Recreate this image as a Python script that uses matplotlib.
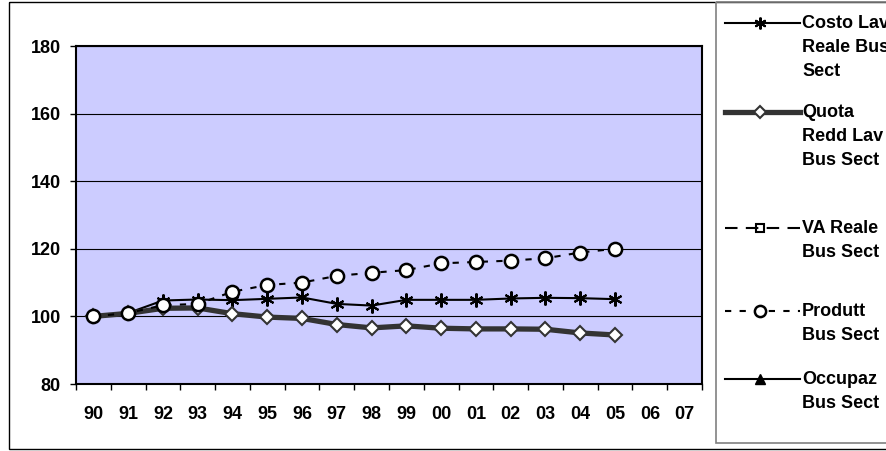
import numpy as np
import matplotlib.pyplot as plt
from matplotlib.patches import Rectangle

plt.rcParams['font.family'] = ['Liberation Sans', 'DejaVu Sans']
plt.rcParams['font.weight'] = 'bold'

# categorie (anni) e serie
anni = ['90', '91', '92', '93', '94', '95', '96', '97', '98', '99',
        '00', '01', '02', '03', '04', '05', '06', '07']
nan = np.nan
costo_lav = [100, 101, 104.7, 105.0, 104.8, 105.2, 105.6, 103.7, 103.2, 104.9,
             104.9, 104.9, 105.3, 105.5, 105.4, 105.1, nan, nan]
quota_redd = [100, 100.9, 102.4, 102.5, 100.8, 99.8, 99.4, 97.6, 96.6, 97.2,
              96.5, 96.3, 96.3, 96.2, 95.1, 94.5, nan, nan]
va_reale = [nan] * 18
produtt = [100, 101, 103.3, 103.7, 107.3, 109.3, 110.0, 112.0, 112.9, 113.7,
           115.7, 116.1, 116.5, 117.2, 118.9, 120.0, nan, nan]
occupaz = [nan] * 18

etichette = [['Costo Lav', 'Reale Bus', 'Sect'], ['Quota', 'Redd Lav', 'Bus Sect'],
             ['VA Reale', 'Bus Sect'], ['Produtt', 'Bus Sect'], ['Occupaz', 'Bus Sect']]

W, H = 887, 451
fig = plt.figure(figsize=(W / 100, H / 100), dpi=100)
ax = fig.add_axes([76 / W, (H - 384) / H, 626 / W, 338 / H])
ax.set_facecolor('#CCCCFF')

x = np.arange(len(anni))
stili = [
    dict(color='black', lw=1.5, marker=(6, 2, 0), ms=10, mew=1.5),
    dict(color='#333333', lw=3.8, marker='D', ms=7, mfc='white', mec='#333333', mew=1.5),
    dict(color='black', lw=1.5, ls=(0, (6, 4)), marker='s', ms=7, mfc='none', mew=1.5),
    dict(color='black', lw=1.5, ls=(0, (3, 4)), marker='o', ms=9.5, mfc='white', mew=1.8),
    dict(color='black', lw=1.5, marker='^', ms=8),
]
serie = [costo_lav, quota_redd, va_reale, produtt, occupaz]
for i, (s, st) in enumerate(zip(serie, stili)):
    ax.plot(x, s, zorder=3 + i, clip_on=False, **st)

ax.set_xlim(-0.5, len(anni) - 0.5)
ax.set_ylim(80, 180)
ax.set_yticks(range(80, 181, 20))
ax.set_xticks(np.arange(-0.5, len(anni), 1))
ax.set_xticklabels([])
ax.set_xticks(x, minor=True)
ax.set_xticklabels(anni, minor=True, fontsize=13, fontweight='bold')
ax.tick_params(axis='x', which='minor', length=0, pad=16)
ax.tick_params(axis='x', which='major', length=4.3, width=1, direction='out')
ax.tick_params(axis='y', length=4.3, width=1, direction='out', labelsize=13, pad=6.5)
for lab in ax.get_yticklabels():
    lab.set_fontweight('bold')
ax.yaxis.grid(True, color='black', lw=0.8)
ax.set_axisbelow(True)
for sp in ax.spines.values():
    sp.set_color('black')
    sp.set_linewidth(1.5)

# cornice esterna e legenda disegnata a mano
ov = fig.add_axes([0, 0, 1, 1], zorder=10)
ov.set_xlim(0, W)
ov.set_ylim(H, 0)
ov.axis('off')
ov.patch.set_visible(False)
ov.add_patch(Rectangle((9, 2), W + 10, 447, fill=False, ec='black', lw=1))
ov.add_patch(Rectangle((716, 2), W, 441, fill=False, ec='#808080', lw=1.2))

righe_y = [23, 112, 228, 311, 379]
for yy, st, righe in zip(righe_y, stili, etichette):
    linea = {k: v for k, v in st.items() if k in ('color', 'lw', 'ls')}
    ov.plot([725, 800], [yy, yy], **linea)
    mk = {k: v for k, v in st.items() if k in ('marker', 'mfc', 'mec', 'mew', 'color')}
    ov.plot([760], [yy], ls='none', ms=st['ms'] * 0.85, **mk)
    for k, r in enumerate(righe):
        ov.text(802, yy + 5 + 24 * k, r, fontsize=13, fontweight='bold',
                va='baseline', ha='left')

fig.savefig('out.png', dpi=100)
